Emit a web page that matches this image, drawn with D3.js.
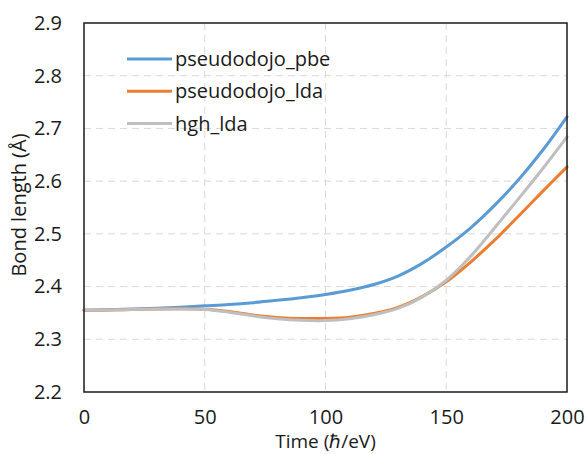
<!DOCTYPE html>
<html>
<head>
<meta charset="utf-8">
<script src="https://cdn.jsdelivr.net/npm/d3@7"></script>
<style>
  body { margin: 0; background: #fff; }
  svg text { font-family: "Open Sans", sans-serif; fill: #1a1a1a; }
</style>
</head>
<body>
<svg id="chart" width="587" height="454"></svg>
<script>
// Data
const times = [0, 10, 20, 30, 40, 50, 60, 70, 80, 90, 100, 110, 120, 130, 140, 150, 160, 170, 180, 190, 200];
const pbeValues = [2.355, 2.356, 2.3575, 2.359, 2.361, 2.3635, 2.366, 2.3695, 2.374, 2.379, 2.385, 2.393, 2.404, 2.42, 2.444, 2.475, 2.511, 2.554, 2.603, 2.659, 2.722];
const ldaValues = [2.355, 2.3555, 2.3565, 2.3575, 2.358, 2.357, 2.3525, 2.346, 2.3415, 2.3395, 2.3395, 2.342, 2.349, 2.3605, 2.381, 2.409, 2.446, 2.488, 2.534, 2.581, 2.627];
const hghValues = [2.355, 2.3555, 2.3565, 2.3575, 2.3575, 2.3565, 2.3515, 2.3445, 2.339, 2.336, 2.3355, 2.339, 2.3465, 2.3585, 2.38, 2.412, 2.457, 2.511, 2.567, 2.624, 2.684];
const seriesNames = ['pseudodojo_pbe', 'pseudodojo_lda', 'hgh_lda'];
const seriesColors = ['#5B9BD5', '#ED7D31', '#BFBFBF'];
const xTicks = [0, 50, 100, 150, 200];
const yTicks = [2.2, 2.3, 2.4, 2.5, 2.6, 2.7, 2.8, 2.9];

const allSeries = [pbeValues, ldaValues, hghValues].map((vals, i) => ({
  name: seriesNames[i],
  color: seriesColors[i],
  points: times.map((t, j) => ({ t, v: vals[j] }))
}));

const margin = { left: 84, right: 20, top: 23, bottom: 62 };
const width = 587, height = 454;

const svg = d3.select('#chart');

const x = d3.scaleLinear().domain([0, 200]).range([margin.left, width - margin.right]);
const y = d3.scaleLinear().domain([2.2, 2.9]).range([height - margin.bottom, margin.top]);

// Gridlines
const grid = svg.append('g').attr('class', 'grid')
  .attr('stroke', '#D9D9D9').attr('stroke-width', 1).attr('stroke-dasharray', '7,5');

grid.selectAll('line.h')
  .data(yTicks.filter(d => d > 2.2 && d < 2.9))
  .enter().append('line')
  .attr('x1', x(0)).attr('x2', x(200))
  .attr('y1', d => y(d)).attr('y2', d => y(d));

grid.selectAll('line.v')
  .data(xTicks.filter(d => d > 0 && d < 200))
  .enter().append('line')
  .attr('y1', y(2.9)).attr('y2', y(2.2))
  .attr('x1', d => x(d)).attr('x2', d => x(d));

// Lines
const line = d3.line()
  .x(d => x(d.t))
  .y(d => y(d.v))
  .curve(d3.curveCatmullRom.alpha(0.5));

svg.append('g').selectAll('path')
  .data(allSeries)
  .enter().append('path')
  .attr('fill', 'none')
  .attr('stroke', d => d.color)
  .attr('stroke-width', 3)
  .attr('stroke-linecap', 'round')
  .attr('d', d => line(d.points));

// Plot frame
svg.append('rect')
  .attr('x', x(0)).attr('y', y(2.9))
  .attr('width', x(200) - x(0)).attr('height', y(2.2) - y(2.9))
  .attr('fill', 'none').attr('stroke', '#1a1a1a').attr('stroke-width', 1.5);

// Axes
const xAxis = svg.append('g')
  .attr('transform', `translate(0,${y(2.2)})`)
  .call(d3.axisBottom(x).tickValues(xTicks).tickSize(0).tickPadding(18));
const yAxis = svg.append('g')
  .attr('transform', `translate(${x(0)},0)`)
  .call(d3.axisLeft(y).tickValues(yTicks).tickSize(0).tickPadding(22).tickFormat(d3.format('.1f')));

[xAxis, yAxis].forEach(ax => {
  ax.select('.domain').remove();
  ax.selectAll('text').style('font-size', '20px').style('font-family', '"Open Sans", sans-serif').attr('fill', '#1a1a1a');
});

// Axis titles
svg.append('text')
  .attr('x', (x(0) + x(200)) / 2)
  .attr('y', 448)
  .attr('text-anchor', 'middle')
  .style('font-size', '19px')
  .text('Time (ℏ/eV)');

svg.append('text')
  .attr('transform', `translate(26,${205}) rotate(-90)`)
  .attr('text-anchor', 'middle')
  .style('font-size', '20px')
  .text('Bond length (Å)');

// Legend
const legend = svg.append('g').selectAll('g')
  .data(allSeries)
  .enter().append('g')
  .attr('transform', (d, i) => `translate(127,${59 + i * 32.3})`);

legend.append('line')
  .attr('x1', 0).attr('x2', 45)
  .attr('stroke', d => d.color)
  .attr('stroke-width', 3);

legend.append('text')
  .attr('x', 48)
  .attr('dy', '0.35em')
  .style('font-size', '20px')
  .text(d => d.name);
</script>
</body>
</html>
